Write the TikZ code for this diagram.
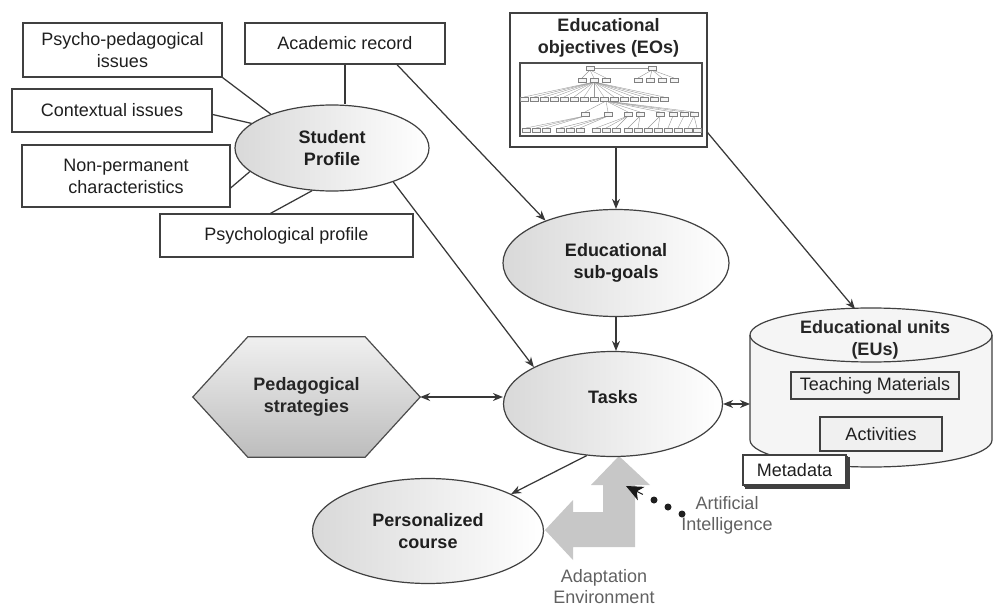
\documentclass[tikz,border=0pt]{standalone}
\usepackage{fontspec}
\setmainfont{Liberation Sans}
\usetikzlibrary{shapes.geometric,arrows.meta,backgrounds,shadows,calc}

\tikzset{
  conn/.style={draw=black!78,line width=1.25pt},
  arr/.style={conn,-{Stealth[length=10pt,width=8pt]}},
  twoarr/.style={conn,{Stealth[length=10pt,width=8pt]}-{Stealth[length=10pt,width=8pt]}},
  infobox/.style={rectangle,draw=black!75,line width=1.2pt,fill=white,align=center,text=black!88,font=\fontsize{18}{22}\selectfont},
  bubble/.style={ellipse,draw=black!75,line width=1.2pt,left color=black!15,right color=white,align=center,inner sep=0pt,text=black!88,font=\fontsize{18}{22}\selectfont\bfseries},
  hexlabel/.style={align=center,text=black!85,font=\fontsize{18}{22}\selectfont\bfseries},
  hexfill/.style={draw=black!70,line width=1.2pt,top color=black!6,bottom color=black!26},
  eubox/.style={infobox,fill=black!6},
  treeframe/.style={draw=black!70,line width=1.4pt,fill=white},
  treenode/.style={draw=black!50,line width=0.4pt,fill=black!4},
  treeedge/.style={draw=black!40,line width=0.4pt},
  cylfill/.style={fill=black!4},
  cylline/.style={draw=black!75,line width=1.2pt},
  adaptarrow/.style={fill=black!22},
  note/.style={align=center,text=black!62,font=\fontsize{18}{21}\selectfont},
  aihead/.style={draw=black!90,line width=1pt,-{Stealth[length=17pt,width=15pt,inset=5pt]}},
}

\begin{document}
\begin{tikzpicture}[x=1pt,y=-1pt]
\useasboundingbox (0,0) rectangle (994,607);

% adaptation arrow
\fill[adaptarrow] (619,456) -- (650,485) -- (635,485) -- (635,547) -- (573,547) -- (573,560)
  -- (545,530) -- (573,500) -- (573,512) -- (603,512) -- (603,485) -- (591,485) -- cycle;

% student profile and its parts
\node[bubble,minimum width=194pt,minimum height=86pt] (sp) at (332,148) {Student\\Profile};
\node[infobox,minimum width=199pt,minimum height=54pt] (psy) at (122.5,50) {Psycho-pedagogical\\issues};
\node[infobox,minimum width=200pt,minimum height=41pt] (acad) at (345,43.5) {Academic record};
\node[infobox,minimum width=200pt,minimum height=43pt] (ctx) at (112,110.5) {Contextual issues};
\node[infobox,minimum width=208pt,minimum height=62pt] (nonp) at (126,176) {Non-permanent\\characteristics};
\node[infobox,minimum width=253pt,minimum height=43pt] (psyp) at (286.5,235.5) {Psychological profile};

\draw[conn] (psy.south east) -- (sp.151);
\draw[conn] (acad.south) -- (acad.south |- sp.north);
\draw[conn] ([yshift=-4pt]ctx.east) -- (sp.163);
\draw[conn] ([yshift=-12pt]nonp.east) -- (sp.196);
\draw[conn] ([xshift=-16pt]psyp.north) -- (sp.245);

% educational objectives
\node[infobox,minimum width=197pt,minimum height=134pt] (eo) at (608.5,80) {};
\node[hexlabel] (eotitle) at (608.5,38) {Educational\\objectives (EOs)};
\node[treeframe,minimum width=182pt,minimum height=73pt] (eotree) at (611,99.5) {};
\draw[treeedge] (594,68) -- (648,68);
\foreach \x in {582,594,606} \draw[treeedge] (590,70) -- (\x,78);
\foreach \x in {638,650,662,674} \draw[treeedge] (652,70) -- (\x,78);
\foreach \x in {524,534,...,664} \draw[treeedge] (594,82) -- (\x,97);
\foreach \x in {585,608,628,640,660,673,684,694} \draw[treeedge] (606,101) -- (\x,112);
\foreach \x/\p in {526/585,536/585,546/585,560/608,570/608,580/608,596/628,606/628,616/628,628/640,638/640,648/660,658/660,668/673,678/684,688/694,697/694}
  \draw[treeedge] (\p,116) -- (\x,128);
\foreach \x in {590,652} \draw[treenode] (\x-4,66) rectangle (\x+4,70);
\foreach \x in {582,594,606,638,650,662,674} \draw[treenode] (\x-4,78) rectangle (\x+4,82);
\foreach \x in {524,534,...,664} \draw[treenode] (\x-4,97) rectangle (\x+4,101);
\foreach \x in {585,608,628,640,660,673,684,694} \draw[treenode] (\x-4,112) rectangle (\x+4,116);
\foreach \x in {526,536,546,560,570,580,596,606,616,628,638,648,658,668,678,688,697}
  \draw[treenode] (\x-4,128) rectangle (\x+4,132);

% goals, tasks, course
\node[bubble,minimum width=226pt,minimum height=107pt] (sg) at (616,263) {Educational\\sub-goals};
\node[bubble,minimum width=219pt,minimum height=105pt,text depth=14pt] (tasks) at (613,404) {Tasks};
\node[bubble,minimum width=231pt,minimum height=105pt] (pc) at (428,531) {Personalized\\course};

% pedagogical strategies
\node[hexlabel,minimum width=227pt,minimum height=120pt] (ped) at (306.5,397) {Pedagogical\\strategies};
\begin{scope}[on background layer]
\draw[hexfill] (ped.west) -- ([xshift=55pt]ped.north west) -- ([xshift=-55pt]ped.north east) -- (ped.east)
  -- ([xshift=-55pt]ped.south east) -- ([xshift=55pt]ped.south west) -- cycle;
\end{scope}

% educational units
\coordinate (cylNW) at (750,335);
\coordinate (eutop) at (855,309);
\fill[cylfill] (750,335) -- (750,440) arc[start angle=180,end angle=360,x radius=121pt,y radius=27pt]
  -- (992,335) arc[start angle=0,end angle=180,x radius=121pt,y radius=27pt] -- cycle;
\draw[cylline] (750,335) -- (750,440) arc[start angle=180,end angle=360,x radius=121pt,y radius=27pt]
  -- (992,335) arc[start angle=0,end angle=180,x radius=121pt,y radius=27pt];
\draw[cylline] (750,335) arc[start angle=180,end angle=360,x radius=121pt,y radius=27pt];
\node[hexlabel] (eutitle) at (875,340) {Educational units\\(EUs)};
\node[eubox,minimum width=168pt,minimum height=27pt,inner sep=1pt] (tm) at (875,385.5) {Teaching Materials};
\node[eubox,minimum width=122pt,minimum height=34pt] (act) at (881,434) {Activities};
\node[infobox,minimum width=103pt,minimum height=30pt,inner sep=1pt,
  double copy shadow={shadow xshift=1.5pt,shadow yshift=-1.5pt,draw=black!75,fill=white}] (meta) at (794.5,470) {Metadata};

% connectors
\draw[arr] ([xshift=52pt]acad.south) -- (sg.149);
\draw[arr] (sp.331) -- (tasks.155);
\draw[arr] (eo.south -| sg.north) -- (sg.north);
\draw[arr] (sg.south) -- (sg.south |- tasks.north);
\draw[arr] ([yshift=15pt]eo.south east) -- (eutop);
\draw[twoarr] (ped.east) -- (ped.east -| tasks.west);
\draw[twoarr] (tasks.east) -- (tasks.east -| cylNW);
\draw[arr] (tasks.243) -- (pc.24);

% artificial intelligence
\node[note] (ai) at (727,515) {Artificial\\Intelligence};
\node[note] (adapt) at (604,587) {Adaptation\\Environment};
\coordinate (aidot) at (682,514);
\coordinate (aitip) at (626,486);
\foreach \t in {0,0.25,0.5} \fill[black!88] ($(aidot)!\t!(aitip)$) circle (3.5pt);
\draw[aihead] ($(aidot)!0.7!(aitip)$) -- (aitip);
\end{tikzpicture}
\end{document}
